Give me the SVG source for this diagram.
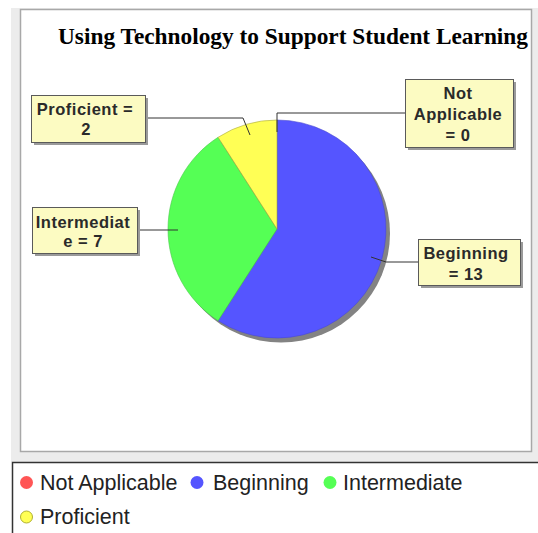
<svg xmlns="http://www.w3.org/2000/svg" width="538" height="533" viewBox="0 0 538 533">
<style>
.lbl{font-family:"Liberation Sans",Arial,sans-serif;font-weight:bold;font-size:16.5px;letter-spacing:0.5px;fill:#2a2a2a;text-anchor:middle}
.box{fill:#fcfbc2;stroke:#5a5a5a;stroke-width:1}
.shadow{fill:#9a9a9a}
.leg{font-family:"Liberation Sans",Arial,sans-serif;font-size:21.5px;fill:#222}
.conn{fill:none;stroke:#333;stroke-width:1}
</style>
<rect x="0" y="0" width="538" height="533" fill="#ffffff"/>
<rect x="11" y="8" width="527" height="454" fill="#ececec"/>
<rect x="20.5" y="9.5" width="511" height="442" fill="#ffffff" stroke="#a8a8a8" stroke-width="1.5"/>
<text x="58" y="44" font-family="'Liberation Serif','Times New Roman',serif" font-weight="bold" font-size="23.5" textLength="470" lengthAdjust="spacingAndGlyphs" fill="#000">Using Technology to Support Student Learning</text>
<g id="pie">
<circle cx="281" cy="233.5" r="109" fill="#838383"/>
<path id="slice-beginning" d="M277,229 L277,120 A109,109 0 1 1 218.07,320.70 Z" fill="#5555ff" stroke="#4a4ad0" stroke-width="0.6"/>
<path id="slice-intermediate" d="M277,229 L218.07,320.70 A109,109 0 0 1 218.07,137.30 Z" fill="#55ff55" stroke="#4ac84a" stroke-width="0.6"/>
<path id="slice-proficient" d="M277,229 L218.07,137.30 A109,109 0 0 1 277,120 Z" fill="#ffff55" stroke="#a8a840" stroke-width="0.6"/>
</g>
<g id="connectors">
<polyline class="conn" points="145,118 243,118 250,135"/>
<polyline class="conn" points="405,113 277,113 277,132"/>
<polyline class="conn" points="137,230 178,230"/>
<polyline class="conn" points="418,262 386,262 371,257"/>
</g>
<g id="label-proficient">
<rect class="shadow" x="34" y="98" width="114" height="47"/>
<rect class="box" x="31.5" y="95.5" width="114" height="47"/>
<text class="lbl" x="85" y="114.5">Proficient =</text>
<text class="lbl" x="86" y="135">2</text>
</g>
<g id="label-intermediate">
<rect class="shadow" x="35" y="210" width="105" height="46"/>
<rect class="box" x="32.5" y="207.5" width="105" height="46"/>
<text class="lbl" x="83" y="227.5">Intermediat</text>
<text class="lbl" x="83" y="247">e = 7</text>
</g>
<g id="label-notapplicable">
<rect class="shadow" x="408" y="82" width="108" height="68"/>
<rect class="box" x="405.5" y="79.5" width="108" height="68"/>
<text class="lbl" x="458" y="98.5">Not</text>
<text class="lbl" x="458" y="119.5">Applicable</text>
<text class="lbl" x="458" y="140.5">= 0</text>
</g>
<g id="label-beginning">
<rect class="shadow" x="421" y="242" width="102" height="46"/>
<rect class="box" x="418.5" y="239.5" width="102" height="46"/>
<text class="lbl" x="466" y="258.5">Beginning</text>
<text class="lbl" x="466" y="279.5">= 13</text>
</g>
<g id="legend">
<rect x="12.5" y="462.5" width="540" height="90" fill="#ffffff" stroke="#333" stroke-width="1.5"/>
<circle cx="26.5" cy="482.5" r="6.5" fill="#ff5555"/>
<text class="leg" x="40" y="490">Not Applicable</text>
<circle cx="197" cy="482.5" r="6.5" fill="#5555ff"/>
<text class="leg" x="213" y="490">Beginning</text>
<circle cx="330" cy="482.5" r="6.5" fill="#55ff55"/>
<text class="leg" x="343" y="490">Intermediate</text>
<circle cx="26.5" cy="517" r="6" fill="#ffff55" stroke="#b0b030" stroke-width="1"/>
<text class="leg" x="40" y="524">Proficient</text>
</g>
</svg>
